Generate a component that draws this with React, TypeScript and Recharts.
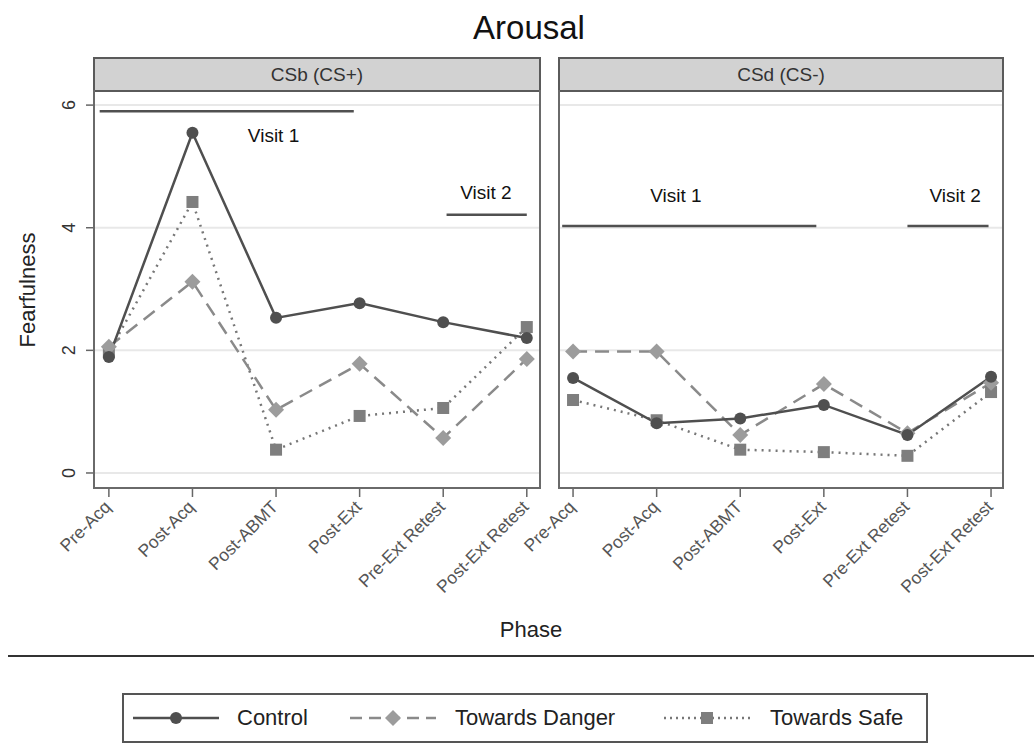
import React from 'react';
import {
  LineChart,
  Line,
  XAxis,
  YAxis,
  CartesianGrid,
  ReferenceLine,
  ReferenceDot,
} from 'recharts';

const PHASES = ['Pre-Acq', 'Post-Acq', 'Post-ABMT', 'Post-Ext', 'Pre-Ext Retest', 'Post-Ext Retest'];
const Y_TICKS = [0, 2, 4, 6];

// CSb (CS+)
const csbControl = [1.89, 5.55, 2.53, 2.77, 2.46, 2.2];
const csbDanger = [2.06, 3.12, 1.03, 1.78, 0.57, 1.86];
const csbSafe = [1.97, 4.42, 0.38, 0.93, 1.06, 2.38];

// CSd (CS-)
const csdControl = [1.55, 0.81, 0.89, 1.11, 0.62, 1.57];
const csdDanger = [1.98, 1.98, 0.62, 1.45, 0.65, 1.47];
const csdSafe = [1.19, 0.86, 0.38, 0.34, 0.28, 1.32];

// visit brackets: line from..to at y, label at lx, ly
const csbVisits = [
  { name: 'Visit 1', from: -0.11, to: 2.93, y: 5.9, lx: 1.97, ly: 5.51 },
  { name: 'Visit 2', from: 4.04, to: 5.0, y: 4.21, lx: 4.51, ly: 4.57 },
];
const csdVisits = [
  { name: 'Visit 1', from: -0.13, to: 2.91, y: 4.03, lx: 1.23, ly: 4.52 },
  { name: 'Visit 2', from: 4.0, to: 4.97, y: 4.03, lx: 4.57, ly: 4.52 },
];

const FONT = '"Liberation Sans", Arial, Helvetica, sans-serif';

const buildRows = (control: number[], danger: number[], safe: number[]) =>
  PHASES.map((p, i) => ({ idx: i, phase: p, control: control[i], danger: danger[i], safe: safe[i] }));

const CircleDot = (props: any) => {
  const { cx, cy } = props;
  if (cx == null || cy == null) return null;
  return <circle cx={cx} cy={cy} r={6} fill="#4f4f4f" />;
};

const DiamondDot = (props: any) => {
  const { cx, cy } = props;
  if (cx == null || cy == null) return null;
  const s = 8;
  return (
    <polygon
      points={`${cx},${cy - s} ${cx + s},${cy} ${cx},${cy + s} ${cx - s},${cy}`}
      fill="#9c9c9c"
    />
  );
};

const SquareDot = (props: any) => {
  const { cx, cy } = props;
  if (cx == null || cy == null) return null;
  return <rect x={cx - 6} y={cy - 6} width={12} height={12} fill="#7e7e7e" />;
};

const XTick = (props: any) => {
  const { x, y, payload } = props;
  const ax = x + 3;
  const ay = y + 9;
  return (
    <text
      x={ax}
      y={ay}
      transform={`rotate(-45, ${ax}, ${ay})`}
      textAnchor="end"
      fontSize={17.5}
      fill="#555"
      fontFamily={FONT}
    >
      {PHASES[payload.value]}
    </text>
  );
};

const YTick = (props: any) => {
  const { x, y, payload } = props;
  const bx = x - 9;
  return (
    <text
      x={bx}
      y={y}
      transform={`rotate(-90, ${bx}, ${y})`}
      textAnchor="middle"
      fontSize={18}
      fill="#333"
      fontFamily={FONT}
    >
      {payload.value}
    </text>
  );
};

interface PanelProps {
  rows: ReturnType<typeof buildRows>;
  visits: typeof csbVisits;
  width: number;
  margin: { top: number; right: number; bottom: number; left: number };
  xDomain: [number, number];
  showY: boolean;
}

function Panel({ rows, visits, width, margin, xDomain, showY }: PanelProps) {
  return (
    <LineChart width={width} height={620} data={rows} margin={margin}>
      <CartesianGrid
        vertical={false}
        horizontalValues={Y_TICKS}
        stroke="#e8e8e8"
        strokeWidth={2}
      />
      <XAxis
        dataKey="idx"
        type="number"
        domain={xDomain}
        allowDataOverflow
        ticks={[0, 1, 2, 3, 4, 5]}
        interval={0}
        height={100}
        axisLine={false}
        tickSize={9}
        tickLine={{ stroke: '#666', strokeWidth: 1.5 }}
        tick={<XTick />}
      />
      <YAxis
        type="number"
        domain={[-0.245, 6.23]}
        allowDataOverflow
        ticks={Y_TICKS}
        width={showY ? 83 : 0}
        hide={!showY}
        axisLine={false}
        tickSize={7}
        tickLine={{ stroke: '#666', strokeWidth: 1.5 }}
        tick={<YTick />}
      />
      {visits.map((v) => (
        <ReferenceLine
          key={v.name + 'line'}
          segment={[
            { x: v.from, y: v.y },
            { x: v.to, y: v.y },
          ]}
          stroke="#505050"
          strokeWidth={2.5}
        />
      ))}
      {visits.map((v) => (
        <ReferenceDot
          key={v.name + 'text'}
          x={v.lx}
          y={v.ly}
          r={0}
          shape={(p: any) => (
            <text
              x={p.cx}
              y={p.cy}
              textAnchor="middle"
              dominantBaseline="central"
              fontSize={19}
              fill="#111"
              fontFamily={FONT}
            >
              {v.name}
            </text>
          )}
        />
      ))}
      <Line
        dataKey="safe"
        stroke="#777"
        strokeWidth={2.5}
        strokeDasharray="2 5"
        dot={<SquareDot />}
        activeDot={false}
        isAnimationActive={false}
      />
      <Line
        dataKey="danger"
        stroke="#8a8a8a"
        strokeWidth={2.5}
        strokeDasharray="14 8"
        dot={<DiamondDot />}
        activeDot={false}
        isAnimationActive={false}
      />
      <Line
        dataKey="control"
        stroke="#4f4f4f"
        strokeWidth={2.5}
        dot={<CircleDot />}
        activeDot={false}
        isAnimationActive={false}
      />
    </LineChart>
  );
}

const Strip = ({ left, width, label }: { left: number; width: number; label: string }) => (
  <>
    <div
      style={{
        position: 'absolute',
        left,
        top: 57,
        width,
        height: 35,
        boxSizing: 'border-box',
        background: '#d2d2d2',
        border: '2px solid #5a5a5a',
        display: 'flex',
        alignItems: 'center',
        justifyContent: 'center',
        fontSize: 19,
        color: '#333',
        fontFamily: FONT,
      }}
    >
      {label}
    </div>
    <div
      style={{
        position: 'absolute',
        left,
        top: 90,
        width,
        height: 399,
        boxSizing: 'border-box',
        border: '2px solid #6a6a6a',
        borderTop: 'none',
        pointerEvents: 'none',
      }}
    />
  </>
);

const LegendItem = ({ kind, label, left, textLeft }: { kind: string; label: string; left: number; textLeft: number }) => {
  const w = 86;
  return (
    <>
      <svg style={{ position: 'absolute', left, top: 708, overflow: 'visible' }} width={w} height={20}>
        {kind === 'control' && (
          <>
            <line x1={0} y1={10} x2={w} y2={10} stroke="#4f4f4f" strokeWidth={2.5} />
            <circle cx={w / 2} cy={10} r={6} fill="#4f4f4f" />
          </>
        )}
        {kind === 'danger' && (
          <>
            <line x1={0} y1={10} x2={w} y2={10} stroke="#8a8a8a" strokeWidth={2.5} strokeDasharray="12 7" />
            <polygon points={`${w / 2},2 ${w / 2 + 8},10 ${w / 2},18 ${w / 2 - 8},10`} fill="#9c9c9c" />
          </>
        )}
        {kind === 'safe' && (
          <>
            <line x1={0} y1={10} x2={w} y2={10} stroke="#777" strokeWidth={2.5} strokeDasharray="2 4" />
            <rect x={w / 2 - 6} y={4} width={12} height={12} fill="#7e7e7e" />
          </>
        )}
      </svg>
      <div
        style={{
          position: 'absolute',
          left: textLeft,
          top: 704,
          fontSize: 22,
          lineHeight: '28px',
          color: '#222',
          fontFamily: FONT,
        }}
      >
        {label}
      </div>
    </>
  );
};

export default function App() {
  const csbRows = buildRows(csbControl, csbDanger, csbSafe);
  const csdRows = buildRows(csdControl, csdDanger, csdSafe);

  return (
    <div
      style={{
        position: 'absolute',
        left: 0,
        top: 0,
        width: 1034,
        height: 748,
        background: '#fff',
        fontFamily: FONT,
        overflow: 'hidden',
      }}
    >
      <div
        style={{
          position: 'absolute',
          left: 0,
          top: 8,
          width: 1058,
          textAlign: 'center',
          fontSize: 33,
          lineHeight: '40px',
          color: '#111',
        }}
      >
        Arousal
      </div>

      <div style={{ position: 'absolute', left: 0, top: 0 }}>
        <Panel
          rows={csbRows}
          visits={csbVisits}
          width={560}
          margin={{ top: 91, right: 19, bottom: 32, left: 10 }}
          xDomain={[-0.19, 5.17]}
          showY
        />
      </div>
      <div style={{ position: 'absolute', left: 460, top: 0 }}>
        <Panel
          rows={csdRows}
          visits={csdVisits}
          width={574}
          margin={{ top: 91, right: 30, bottom: 32, left: 98 }}
          xDomain={[-0.18, 5.155]}
          showY={false}
        />
      </div>

      <Strip left={93} width={448} label="CSb (CS+)" />
      <Strip left={558} width={446} label="CSd (CS-)" />

      <div
        style={{
          position: 'absolute',
          left: 28,
          top: 290,
          transform: 'translate(-50%, -50%) rotate(-90deg)',
          fontSize: 22,
          color: '#222',
          whiteSpace: 'nowrap',
        }}
      >
        Fearfulness
      </div>
      <div
        style={{
          position: 'absolute',
          left: 531,
          top: 630,
          transform: 'translate(-50%, -50%)',
          fontSize: 22,
          color: '#222',
        }}
      >
        Phase
      </div>

      <div style={{ position: 'absolute', left: 8, top: 655, width: 1026, height: 2, background: '#333' }} />

      <div
        style={{
          position: 'absolute',
          left: 122,
          top: 693,
          width: 806,
          height: 50,
          boxSizing: 'border-box',
          border: '2px solid #555',
        }}
      />
      <LegendItem kind="control" label="Control" left={133} textLeft={237} />
      <LegendItem kind="danger" label="Towards Danger" left={350} textLeft={455} />
      <LegendItem kind="safe" label="Towards Safe" left={664} textLeft={770} />
    </div>
  );
}
